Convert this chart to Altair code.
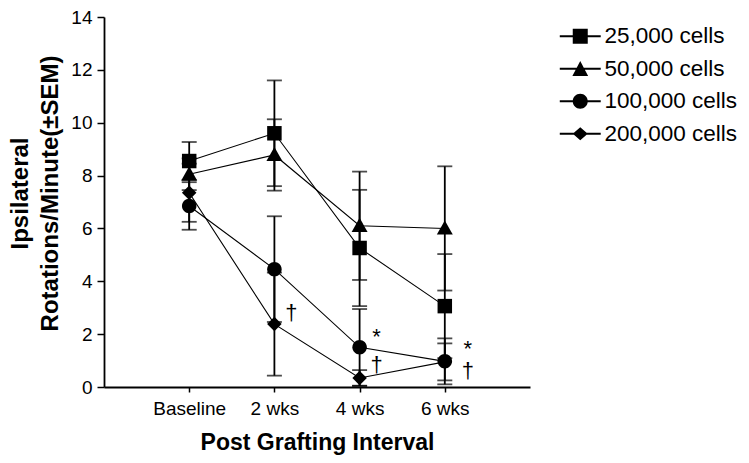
import altair as alt
import pandas as pd

intervals = ["Baseline", "2 wks", "4 wks", "6 wks"]
series = ["25,000 cells", "50,000 cells", "100,000 cells", "200,000 cells"]

mean_25k = [8.55, 9.6, 5.26, 3.06]
sem_25k = [0.72, 2.0, 2.2, 1.97]
mean_50k = [8.05, 8.78, 6.1, 6.0]
sem_50k = [0.6, 1.35, 2.05, 2.35]
mean_100k = [6.85, 4.46, 1.5, 0.97]
sem_100k = [0.9, 2.0, 1.45, 0.87]
mean_200k = [7.35, 2.38, 0.34, 0.95]
sem_200k = [1.1, 1.95, 0.3, 0.7]

ann_text = ["†", "*", "†", "*", "†"]
ann_x = ["2 wks", "4 wks", "4 wks", "6 wks", "6 wks"]
ann_y = [2.8, 1.9, 0.85, 1.42, 0.6]

y_ticks = [0, 2, 4, 6, 8, 10, 12, 14]

means = [mean_25k, mean_50k, mean_100k, mean_200k]
sems = [sem_25k, sem_50k, sem_100k, sem_200k]
rows = []
for s, m_list, e_list in zip(series, means, sems):
    for i, m, e in zip(intervals, m_list, e_list):
        rows.append({"series": s, "interval": i, "mean": m, "lo": m - e, "hi": m + e})
df = pd.DataFrame(rows)
caps = pd.concat([
    df[["series", "interval", "lo"]].rename(columns={"lo": "v"}),
    df[["series", "interval", "hi"]].rename(columns={"hi": "v"}),
])
ann = pd.DataFrame({"t": ann_text, "interval": ann_x, "y": ann_y})

FONT = "Liberation Sans"

marker_paths = [
    "M-1,-1H1V1H-1Z",
    "M0,-1.1L1.1,0.85H-1.1Z",
    "M1,0A1,1,0,1,1,-1,0A1,1,0,1,1,1,0Z",
    "M0,-1L1,0L0,1L-1,0Z",
]
line_part = "M-2.73,-0.13H2.73V0.13H-2.73Z"
legend_paths = [
    line_part + "M-1,-1H1V1H-1Z",
    line_part + "M0,-1.05L1.05,0.95H-1.05Z",
    line_part + "M1,0A1,1,0,1,1,-1,0A1,1,0,1,1,1,0Z",
    line_part + "M0,-0.87L1,0L0,0.87L-1,0Z",
]

x_enc = alt.X(
    "interval:N",
    sort=intervals,
    scale=alt.Scale(type="point", domain=intervals, padding=1),
    axis=alt.Axis(
        title="Post Grafting Interval",
        titleFont=FONT,
        titleFontSize=23,
        titleFontWeight="bold",
        titleColor="black",
        titlePadding=13,
        labelFont=FONT,
        labelFontSize=19,
        labelColor="black",
        labelPadding=7,
        labelAngle=0,
        tickSize=5,
        tickColor="black",
        tickWidth=1.5,
        domainColor="black",
        domainWidth=1.8,
        grid=False,
    ),
)
y_scale = alt.Scale(domain=[0, 14], nice=False, zero=True)
y_axis = alt.Axis(
    title=["Ipsilateral", "Rotations/Minute(±SEM)"],
    titleFont=FONT,
    titleFontSize=24,
    titleFontWeight="bold",
    titleColor="black",
    titleLineHeight=30,
    titlePadding=8,
    titleY=176,
    labelFont=FONT,
    labelFontSize=19,
    labelColor="black",
    labelPadding=5,
    values=y_ticks,
    tickSize=7,
    tickColor="black",
    tickWidth=1.5,
    domainColor="black",
    domainWidth=1.8,
    grid=False,
)

base = alt.Chart(df)

lines = base.mark_line(color="black", strokeWidth=1.1).encode(
    x=x_enc,
    y=alt.Y("mean:Q", scale=y_scale, axis=y_axis),
    detail="series:N",
)

bars = base.mark_rule(color="black", strokeWidth=1.8).encode(
    x=alt.X("interval:N", sort=intervals),
    y="lo:Q",
    y2="hi:Q",
)

cap_marks = alt.Chart(caps).mark_tick(
    color="black", orient="horizontal", size=15, thickness=1.8
).encode(
    x=alt.X("interval:N", sort=intervals),
    y="v:Q",
)

points = base.mark_point(filled=True, color="black", opacity=1, size=210).encode(
    x=alt.X("interval:N", sort=intervals),
    y="mean:Q",
    shape=alt.Shape(
        "series:N",
        scale=alt.Scale(domain=series, range=marker_paths),
        legend=None,
    ),
)

legend_layer = base.transform_filter("false").mark_point(
    filled=True, color="black", opacity=1
).encode(
    x=alt.X("interval:N", sort=intervals),
    y="mean:Q",
    shape=alt.Shape(
        "series:N",
        scale=alt.Scale(domain=series, range=legend_paths),
        legend=alt.Legend(
            title=None,
            orient="none",
            legendX=465,
            legendY=8,
            padding=0,
            symbolSize=225,
            symbolFillColor="black",
            symbolStrokeColor="black",
            symbolStrokeWidth=0,
            symbolOpacity=1,
            labelFont=FONT,
            labelFontSize=22.5,
            labelColor="black",
            labelOffset=13,
            rowPadding=9.5,
            labelLimit=300,
        ),
    ),
)

ann1 = alt.Chart(ann[ann["interval"] != "6 wks"]).mark_text(
    font=FONT, fontSize=22, color="black", dx=17, baseline="middle", align="center"
).encode(
    x=alt.X("interval:N", sort=intervals),
    y="y:Q",
    text="t:N",
)
ann2 = alt.Chart(ann[ann["interval"] == "6 wks"]).mark_text(
    font=FONT, fontSize=22, color="black", dx=23, baseline="middle", align="center"
).encode(
    x=alt.X("interval:N", sort=intervals),
    y="y:Q",
    text="t:N",
)

chart = (
    alt.layer(lines, bars, cap_marks, points, legend_layer, ann1, ann2)
    .resolve_scale(shape="independent")
    .properties(
        width=426,
        height=370,
        autosize=alt.AutoSizeParams(type="none"),
        padding={"left": 96, "top": 9, "right": 211, "bottom": 68},
        background="white",
    )
    .configure_view(stroke=None)
)

chart.save("out.html", embed_options={"renderer": "svg", "actions": False})
